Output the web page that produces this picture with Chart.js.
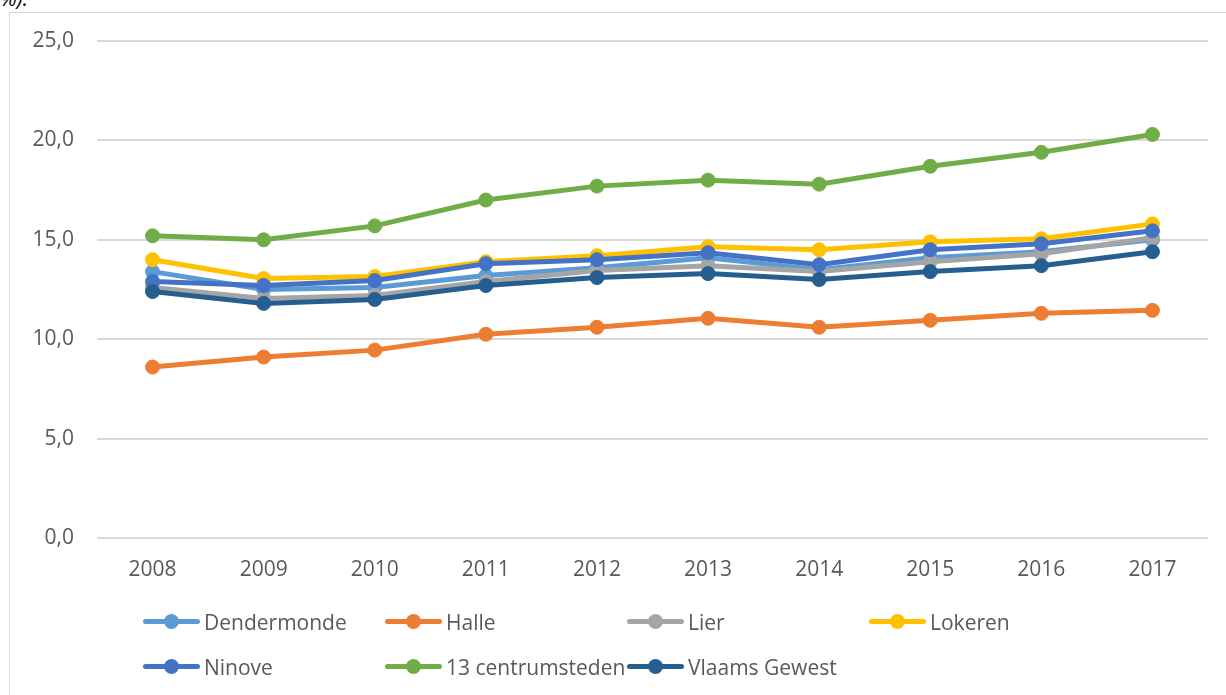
<!DOCTYPE html>
<html>
<head>
<meta charset="utf-8">
<script src="https://cdn.jsdelivr.net/npm/chart.js@4.4.0/dist/chart.umd.min.js"></script>
<style>
    body { margin: 0; background: #fff; font-family: 'Open Sans', sans-serif; }
    #wrap { position: relative; width: 1226px; height: 695px; overflow: hidden; }
    #kader { position: absolute; left: 9px; top: 12px; width: 1400px; height: 900px; border: 1px solid #d9d9d9; }
    #titel { position: absolute; left: 0; top: -16px; font-size: 21px; color: #000; font-style: italic; }
    #grafiek { position: absolute; left: 0; top: 0; }
    #legende { position: absolute; left: 143px; top: 599px; display: grid; grid-template-columns: repeat(4, 242px); row-gap: 0; }
    .item { height: 45px; display: flex; align-items: center; font-size: 21px; color: #595959; white-space: nowrap; }
    .merk { position: relative; width: 57px; height: 5px; border-radius: 3px; margin-right: 4px; }
    .merk span { position: absolute; left: 21px; top: -5px; width: 15px; height: 15px; border-radius: 50%; }
</style>
</head>
<body>
<div id="wrap">
    <div id="titel">%).</div>
    <div id="kader"></div>
    <canvas id="grafiek" width="1226" height="600"></canvas>
    <div id="legende"></div>
</div>
<script>
// Jaren (categorieën)
const jaren = ['2008', '2009', '2010', '2011', '2012', '2013', '2014', '2015', '2016', '2017'];

// Reeksen
const dendermonde = [13.4, 12.5, 12.6, 13.2, 13.6, 14.1, 13.5, 14.1, 14.4, 15.0];
const halle = [8.6, 9.1, 9.45, 10.25, 10.6, 11.05, 10.6, 10.95, 11.3, 11.45];
const lier = [12.6, 12.05, 12.2, 12.9, 13.45, 13.7, 13.4, 13.9, 14.3, 15.1];
const lokeren = [14.0, 13.05, 13.15, 13.9, 14.2, 14.65, 14.5, 14.9, 15.05, 15.8];
const ninove = [12.9, 12.7, 12.95, 13.8, 14.0, 14.35, 13.75, 14.5, 14.8, 15.45];
const centrumsteden = [15.2, 15.0, 15.7, 17.0, 17.7, 18.0, 17.8, 18.7, 19.4, 20.3];
const vlaamsGewest = [12.4, 11.8, 12.0, 12.7, 13.1, 13.3, 13.0, 13.4, 13.7, 14.4];

// Y-as
const yMin = 0;
const yMax = 25;
const yStap = 5;

const reeksen = [
    { naam: 'Dendermonde', data: dendermonde, kleur: '#5B9BD5' },
    { naam: 'Halle', data: halle, kleur: '#ED7D31' },
    { naam: 'Lier', data: lier, kleur: '#A5A5A5' },
    { naam: 'Lokeren', data: lokeren, kleur: '#FFC000' },
    { naam: 'Ninove', data: ninove, kleur: '#4472C4' },
    { naam: '13 centrumsteden', data: centrumsteden, kleur: '#70AD47' },
    { naam: 'Vlaams Gewest', data: vlaamsGewest, kleur: '#255E91' }
];

const tekstKleur = '#595959';
const rasterKleur = '#d9d9d9';

new Chart(document.getElementById('grafiek').getContext('2d'), {
    type: 'line',
    data: {
        labels: jaren,
        datasets: reeksen.map((r, i) => ({
            label: r.naam,
            data: r.data,
            borderColor: r.kleur,
            backgroundColor: r.kleur,
            pointBackgroundColor: r.kleur,
            pointBorderColor: r.kleur,
            borderWidth: 5,
            pointRadius: 7,
            pointBorderWidth: 1,
            tension: 0,
            order: reeksen.length - i // laatste reeks bovenaan
        }))
    },
    options: {
        responsive: false,
        animation: false,
        layout: { padding: { top: 41, right: 18, left: 0, bottom: 0 } },
        plugins: {
            legend: { display: false },
            tooltip: { enabled: false }
        },
        scales: {
            x: {
                offset: true,
                grid: { display: false, drawTicks: false },
                border: { display: false },
                ticks: {
                    color: tekstKleur,
                    font: { family: 'Open Sans', size: 21 },
                    padding: 19,
                    maxRotation: 0
                },
                afterFit: scale => { scale.height = 62; }
            },
            y: {
                min: yMin,
                max: yMax,
                grid: { color: rasterKleur, lineWidth: 2, drawTicks: false },
                border: { display: false },
                ticks: {
                    stepSize: yStap,
                    color: tekstKleur,
                    font: { family: 'Open Sans', size: 21 },
                    padding: 23,
                    callback: v => v.toFixed(1).replace('.', ',')
                },
                afterFit: scale => { scale.width = 97; }
            }
        }
    }
});

// Legende in raster, zoals in het origineel
const legende = document.getElementById('legende');
legende.innerHTML = reeksen.map(r => `
    <div class="item">
        <div class="merk" style="background:${r.kleur}"><span style="background:${r.kleur}"></span></div>
        ${r.naam}
    </div>
`).join('');
</script>
</body>
</html>
